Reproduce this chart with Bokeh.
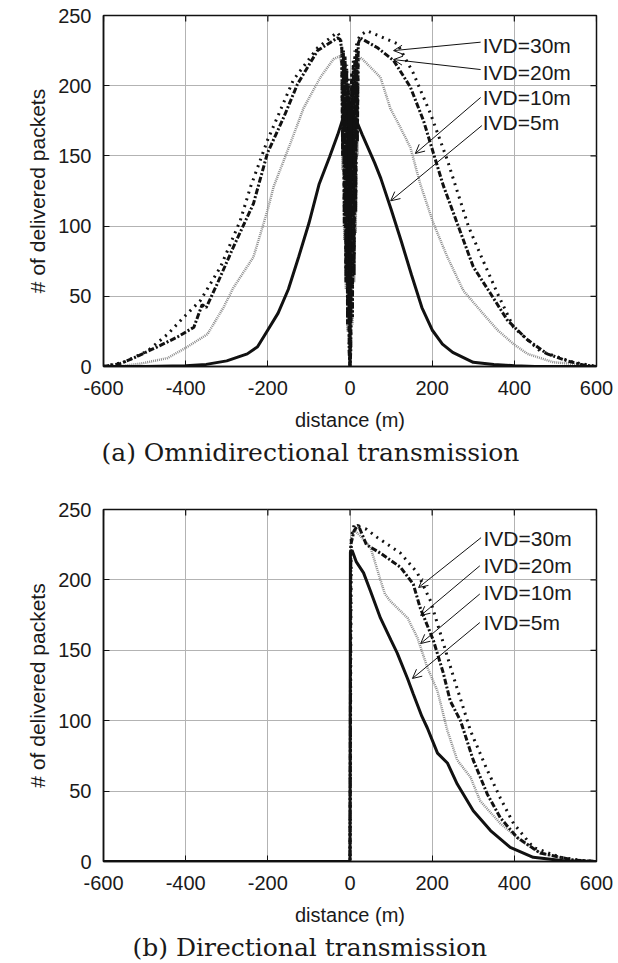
import math
from bokeh.plotting import figure
from bokeh.models import (Range1d, Label, Arrow, OpenHead, FixedTicker, Title,
                          CustomJSTickFormatter)
from bokeh.layouts import column
from bokeh.embed import file_html
from bokeh.resources import INLINE

# ---------------- data ----------------
x_ticks = [-600, -400, -200, 0, 200, 400, 600]
y_ticks = [0, 50, 100, 150, 200, 250]
series_names = ["IVD=5m", "IVD=10m", "IVD=20m", "IVD=30m"]

# (a) Omnidirectional transmission
omni_x5 = [-600, -500, -400, -350, -300, -250, -225, -200, -175, -150, -125, -100, -75, -50, -30,
           -20, -10, -5, -2, 0, 2, 5, 10, 20, 30, 45, 60, 75, 100, 125, 150, 175, 200, 225, 250,
           300, 350, 400, 450, 500, 600]
omni_y5 = [0, 0, 0.5, 1.5, 4, 9, 14, 26, 38, 55, 78, 102, 130, 149, 165,
           174, 182, 188, 192, 0, 185, 180, 178, 172, 165, 155, 145, 134, 112, 89, 65, 42, 26, 16, 10,
           3, 1.5, 0.5, 0, 0, 0]

omni_x10 = [-600, -550, -510, -444, -396, -347, -308, -284, -235, -201, -186, -145, -113, -72, -40,
            -25, -20, -18, -16, -14, -12, -10, -8, -6, -4, -2, 0, 2, 4, 6, 8, 10, 12, 14, 16,
            18, 20, 25, 30, 74, 98, 123, 147, 171, 203, 237, 276, 317, 359, 398, 432, 495, 578, 600]
omni_y10 = [0, 0.5, 2, 6, 14, 23, 42, 56, 78, 111, 128, 159, 184, 206, 219,
            221, 215, 140, 212, 90, 208, 55, 204, 25, 195, 8, 0, 10, 198, 30, 205, 60, 210, 95, 214,
            150, 217, 220, 219, 206, 184, 170, 156, 130, 102, 78, 54, 40, 26, 16, 9, 3, 1, 0]

omni_x20 = [-600, -560, -527, -469, -420, -380, -360, -350, -323, -284, -235, -201, -162, -128, -79,
            -31, -24, -20, -18, -16, -14, -12, -10, -8, -6, -4, -2, 0, 2, 4, 6, 8, 10, 12, 14,
            16, 18, 20, 25, 67, 106, 147, 179, 203, 227, 261, 300, 342, 383, 432, 480, 529, 570, 600]
omni_y20 = [0, 2, 6, 14, 21, 28, 44, 42, 59, 85, 116, 152, 177, 201, 225,
            234, 233, 226, 150, 222, 100, 218, 60, 212, 30, 200, 10, 0, 12, 205, 35, 214, 65, 220, 110,
            226, 160, 230, 234, 227, 218, 199, 175, 152, 129, 102, 71, 52, 33, 19, 9, 4, 1, 0]

omni_x30 = [-600, -551, -493, -444, -405, -364, -315, -267, -242, -201, -138, -79, -31, -24, -20,
            -18, -16, -14, -12, -10, -8, -6, -4, -2, 0, 2, 4, 6, 8, 10, 12, 14, 16, 18, 20,
            25, 42, 115, 154, 196, 237, 250, 288, 317, 359, 398, 463, 544, 600]
omni_y30 = [0, 3, 11, 23, 35, 47, 71, 104, 128, 161, 204, 227, 238, 235, 228,
            160, 226, 110, 222, 70, 215, 40, 205, 15, 0, 20, 210, 45, 218, 80, 225, 120, 230, 170, 233,
            236, 239, 230, 209, 180, 147, 135, 100, 80, 52, 28, 11, 3, 0]

# (b) Directional transmission
dir_x5 = [-600, 0, 1, 5, 15, 33, 50, 74, 100, 115, 140, 154, 175, 188, 213, 237, 261, 300, 342, 390,
          446, 520, 600]
dir_y5 = [0, 0, 220, 221, 213, 205, 192, 173, 157, 148, 130, 119, 103, 95, 77, 70, 55, 36, 22, 10,
          3, 0.5, 0]

dir_x10 = [-600, 0, 2, 8, 13, 50, 74, 85, 98, 140, 164, 188, 213, 237, 261, 293, 317, 366, 415, 463,
           544, 600]
dir_y10 = [0, 0, 228, 235, 235, 223, 200, 190, 185, 173, 159, 138, 121, 93, 72, 60, 43, 27, 15, 6,
           1, 0]

dir_x20 = [-600, 0, 2, 10, 20, 40, 74, 123, 154, 171, 203, 227, 244, 269, 300, 334, 366, 407, 463,
           544, 600]
dir_y20 = [0, 0, 225, 235, 239, 225, 219, 209, 197, 180, 157, 134, 114, 100, 72, 48, 31, 17, 6,
           1, 0]

dir_x30 = [-600, 0, 3, 10, 40, 67, 123, 164, 196, 220, 252, 276, 293, 334, 366, 398, 446, 512, 570,
           600]
dir_y30 = [0, 0, 230, 239, 236, 230, 219, 205, 185, 162, 131, 109, 93, 65, 45, 27, 10, 3, 0.5, 0]

# ---------------- styles ----------------
SANS = "Liberation Sans"
SERIF = "DejaVu Serif"
INK = "#1a1a1a"
styles = {
    "IVD=30m": dict(line_color="#111111", line_width=3, line_dash="2 5"),
    "IVD=20m": dict(line_color="#111111", line_width=3, line_dash="6 2 2 2"),
    "IVD=10m": dict(line_color="#8c8c8c", line_width=2.5, line_dash="1 1"),
    "IVD=5m": dict(line_color="#111111", line_width=3),
}
draw_order = ["IVD=10m", "IVD=30m", "IVD=20m", "IVD=5m"]


def make_panel(data, ann, caption, caption_offset, border_top, border_bottom, frame_h):
    p = figure(frame_width=493, frame_height=frame_h,
               x_range=Range1d(-600, 600), y_range=Range1d(0, 250),
               output_backend="svg", toolbar_location=None,
               min_border_left=103, min_border_right=22,
               min_border_top=border_top, min_border_bottom=border_bottom,
               background_fill_color="white", border_fill_color="white")
    p.outline_line_color = "#111111"
    p.outline_line_width = 1.5
    fmt = CustomJSTickFormatter(code="return tick.toFixed(0);")
    for ax, ticks in ((p.xaxis[0], x_ticks), (p.yaxis[0], y_ticks)):
        ax.ticker = FixedTicker(ticks=ticks)
        ax.formatter = fmt
        ax.major_tick_in = 6
        ax.major_tick_out = 0
        ax.minor_tick_line_color = None
        ax.axis_line_color = "#111111"
        ax.axis_line_width = 1.5
        ax.major_tick_line_color = "#111111"
        ax.major_label_text_font = SANS
        ax.major_label_text_font_size = "20px"
        ax.major_label_text_color = INK
        ax.axis_label_text_font = SANS
        ax.axis_label_text_font_style = "normal"
        ax.axis_label_text_color = INK
    p.xaxis.axis_label = "distance (m)"
    p.yaxis.axis_label = "# of delivered packets"
    p.xaxis.axis_label_text_font_size = "20px"
    p.yaxis.axis_label_text_font_size = "21px"
    p.xaxis.major_label_standoff = 14
    p.yaxis.major_label_standoff = 12
    p.xaxis.axis_label_standoff = 11
    p.yaxis.axis_label_standoff = 6

    # inward tick marks on the top and right edges (half of each dash is clipped by the frame)
    p.scatter(x_ticks, [y_ticks[-1]] * len(x_ticks), marker="dash", size=12,
              angle=math.pi / 2, line_color="#111111", line_width=1.2)
    p.scatter([x_ticks[-1]] * len(y_ticks), y_ticks, marker="dash", size=12,
              line_color="#111111", line_width=1.2)

    p.xgrid.ticker = FixedTicker(ticks=x_ticks)
    p.ygrid.ticker = FixedTicker(ticks=y_ticks)
    p.grid.grid_line_color = "#b3b3b3"
    p.grid.grid_line_width = 1

    for name in draw_order:
        xs, ys = data[name]
        p.line(xs, ys, **styles[name])

    for name, (tx, ty, ax0, ay0, ax1, ay1) in ann.items():
        p.add_layout(Arrow(end=OpenHead(size=9, line_width=1, line_color="#111111"),
                           x_start=ax0, y_start=ay0, x_end=ax1, y_end=ay1,
                           line_width=1, line_color="#111111"))
        p.add_layout(Label(x=tx, y=ty, text=name, text_font=SANS, text_font_size="21px",
                           text_baseline="middle", text_align="left", text_color=INK))
    p.add_layout(Title(text=caption, align="left", offset=caption_offset, text_font=SERIF,
                       text_font_size="25px", text_font_style="normal", text_color=INK,
                       standoff=4), "below")
    return p


omni = {"IVD=5m": (omni_x5, omni_y5), "IVD=10m": (omni_x10, omni_y10),
        "IVD=20m": (omni_x20, omni_y20), "IVD=30m": (omni_x30, omni_y30)}
dirc = {"IVD=5m": (dir_x5, dir_y5), "IVD=10m": (dir_x10, dir_y10),
        "IVD=20m": (dir_x20, dir_y20), "IVD=30m": (dir_x30, dir_y30)}

ann_a = {
    "IVD=30m": (323, 228.6, 318, 231, 106, 225),
    "IVD=20m": (323, 209.4, 318, 211.5, 106, 218.6),
    "IVD=10m": (323, 191.6, 318, 191.6, 159, 151.7),
    "IVD=5m": (323, 173.8, 321, 171.6, 99, 118),
}
ann_b = {
    "IVD=30m": (325, 229.4, 319, 230, 167, 194.6),
    "IVD=20m": (325, 210.2, 316, 210, 172, 174.7),
    "IVD=10m": (325, 191, 316, 190, 172, 154.8),
    "IVD=5m": (325, 169.7, 316, 169.7, 152, 130),
}

p1 = make_panel(omni, ann_a, "(a) Omnidirectional transmission", -2, 15, 124, 351)
p2 = make_panel(dirc, ann_b, "(b) Directional transmission", 29, 19, 102, 352)

layout = column(p1, p2, spacing=0)
open("out.html", "w").write(file_html(layout, INLINE))
